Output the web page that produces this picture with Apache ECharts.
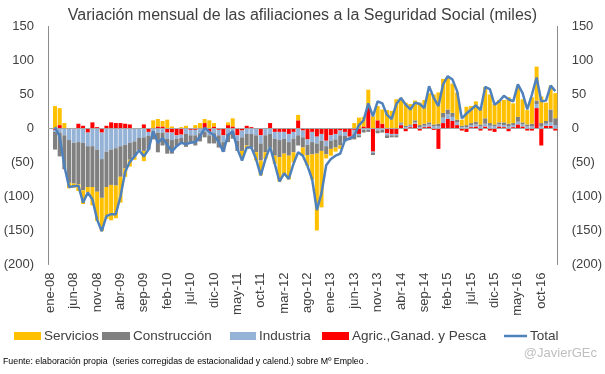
<!DOCTYPE html>
<html>
<head>
<meta charset="utf-8">
<script src="https://cdn.jsdelivr.net/npm/echarts@6/dist/echarts.min.js"></script>
<style>
html,body{margin:0;padding:0;background:#fff;}
#c{width:605px;height:374px;}
</style>
</head>
<body>
<div id="c"></div>
<script>
var categories = [
'ene-08','feb-08','mar-08','abr-08','may-08','jun-08','jul-08','ago-08','sep-08','oct-08','nov-08','dic-08',
'ene-09','feb-09','mar-09','abr-09','may-09','jun-09','jul-09','ago-09','sep-09','oct-09','nov-09','dic-09',
'ene-10','feb-10','mar-10','abr-10','may-10','jun-10','jul-10','ago-10','sep-10','oct-10','nov-10','dic-10',
'ene-11','feb-11','mar-11','abr-11','may-11','jun-11','jul-11','ago-11','sep-11','oct-11','nov-11','dic-11',
'ene-12','feb-12','mar-12','abr-12','may-12','jun-12','jul-12','ago-12','sep-12','oct-12','nov-12','dic-12',
'ene-13','feb-13','mar-13','abr-13','may-13','jun-13','jul-13','ago-13','sep-13','oct-13','nov-13','dic-13',
'ene-14','feb-14','mar-14','abr-14','may-14','jun-14','jul-14','ago-14','sep-14','oct-14','nov-14','dic-14',
'ene-15','feb-15','mar-15','abr-15','may-15','jun-15','jul-15','ago-15','sep-15','oct-15','nov-15','dic-15',
'ene-16','feb-16','mar-16','abr-16','may-16','jun-16','jul-16','ago-16','sep-16','oct-16','nov-16','dic-16',
'ene-17'];

var servicios = [null,
 33,25,8,-8,-6,-10,-20,-8,-27,-43,-49,
 -47,-52,-48,-38,-12,-10,-5,0,-15,0,12,11,
 8,13,3,0,2,4,0,5,8,6,12,5,
 0,0,4,12,0,-12,-5,0,-12,-22,-10,-5,
 -12,-36,-30,-35,-15,8,-12,-16,-37,-113,-83,-6,
 -10,-6,-5,0,0,8,16,14,24,18,21,21,
 27,26,43,36,34,30,29,33,35,43,44,46,
 50,48,43,40,9,27,25,30,26,46,42,30,
 33,33,39,29,46,34,21,39,50,39,27,35,
 37];
var construccion = [null,
 -26,-35,-50,-63,-60,-62,-70,-60,-60,-62,-57,
 -52,-52,-55,-45,-35,-25,-22,-18,-20,-20,-12,-29,
 -19,-22,-20,-11,-9,-19,-11,-15,-12,-8,-12,-15,
 -18,-14,-12,-10,-15,-20,-17,-20,-25,-25,-25,-20,
 -25,-25,-22,-20,-20,-15,-15,-15,-18,-15,-15,-12,
 -12,-12,-15,-8,-2,-8,-3,-4,-3,-3,-4,-4,
 -4,-3,-3,2,2,2,3,3,3,3,3,4,
 7,7,6,4,2,3,3,4,3,8,4,3,
 3,4,4,3,7,3,3,4,5,5,4,19,
 10];
var industria = [null,
 -3,-6,-10,-17,-20,-20,-21,-20,-26,-31,-39,
 -34,-31,-29,-26,-24,-21,-19,-14,-13,-6,-4,-6,
 -6,-9,-11,-5,-5,-8,-8,-8,-7,-5,-5,-7,
 -8,-10,-8,-5,-8,-10,-8,-8,-10,-12,-10,-8,
 -10,-12,-10,-12,-10,-10,-10,-8,-15,-10,-10,-8,
 -8,-8,-7,-6,-3,-6,-2,-2,-2,-2,-3,-2,
 -3,-2,-2,2,2,2,2,2,2,3,3,3,
 8,7,6,4,2,2,3,3,3,4,4,3,
 3,3,3,3,4,3,3,3,6,3,3,5,
 5];
var agricultura = [null,
 -2,5,0,0,-1,7,4,-6,9,2,-6,
 4,9,8,8,7,6,0,0,6,-5,0,3,
 3,-6,-6,-10,-9,0,-2,-2,0,8,-5,3,
 -2,-10,5,3,-10,-3,4,2,0,-10,0,8,
 -5,-5,-5,-8,-5,12,-3,-16,-5,-12,-8,-18,
 -10,-8,-3,-5,-12,-2,-8,3,33,-34,12,7,
 -7,-8,-8,5,-4,2,7,-3,2,3,-2,-30,
 8,14,11,5,-3,-5,2,3,-3,3,-3,-5,
 3,2,-4,2,6,3,-3,-3,30,-25,4,4,
 -3];
var total = [null,
 2,-12,-55,-86,-85,-84,-109,-94,-104,-134,-151,
 -129,-126,-126,-100,-64,-49,-41,-32,-41,-31,-4,-21,
 -14,-24,-34,-26,-21,-23,-21,-20,-12,1,-5,-10,
 -20,-34,-10,-4,-30,-47,-28,-28,-45,-69,-45,-27,
 -52,-78,-66,-74,-52,-35,-40,-55,-75,-120,-95,-54,
 -45,-40,-37,-17,-15,-11,5,12,37,18,40,37,
 20,14,36,45,35,28,38,36,30,62,45,33,
 65,77,72,55,15,22,28,34,27,61,58,35,
 40,48,43,40,65,52,28,50,75,40,41,63,
 55];

var yTicks = [-200,-150,-100,-50,0,50,100,150];

function fmt(v){ return v < 0 ? '(' + Math.abs(v) + ')' : String(v); }

var chart = echarts.init(document.getElementById('c'), null, {renderer:'canvas'});
var FONT = 'Liberation Sans';
var axisTxt = {color:'#404040', fontFamily:FONT, fontSize:13};

function legendAt(name, left, w, h){
  return {data:[{name:name, icon:'rect'}], left:left, top:329, itemWidth:w, itemHeight:h,
    itemGap:0, padding:0, textStyle:{color:'#404040', fontFamily:FONT, fontSize:13.5, padding:[0,0,0,-2]}};
}

var option = {
  animation:false,
  backgroundColor:'#ffffff',
  title:{text:'Variación mensual de las afiliaciones a la Seguridad Social (miles)', left:'center', top:3,
    textStyle:{color:'#404040', fontFamily:FONT, fontSize:16, fontWeight:'normal'}},
  legend:[
    legendAt('Servicios', 14, 27, 8),
    legendAt('Construcción', 102, 28, 8),
    legendAt('Industria', 230, 26, 8),
    legendAt('Agric.,Ganad. y Pesca', 322, 27, 8),
    legendAt('Total', 504, 23, 2.5)
  ],
  grid:{left:48, right:47, top:26.5, bottom:109.5, containLabel:false},
  xAxis:{type:'category', data:categories, boundaryGap:true,
    axisLine:{show:false}, axisTick:{show:false},
    axisLabel:{interval:4, rotate:90, margin:8, color:'#404040', fontFamily:FONT, fontSize:13}},
  yAxis:[
    {type:'value', min:-200, max:150, interval:50, position:'left',
     axisLine:{show:true, lineStyle:{color:'#8c8c8c', width:1}}, axisTick:{show:false}, splitLine:{show:false},
     axisLabel:Object.assign({formatter:fmt, margin:14}, axisTxt)},
    {type:'value', min:-200, max:150, interval:50, position:'right',
     axisLine:{show:true, lineStyle:{color:'#8c8c8c', width:1}}, axisTick:{show:false}, splitLine:{show:false},
     axisLabel:Object.assign({formatter:fmt, margin:14}, axisTxt)}
  ],
  series:[
    {name:'Agric.,Ganad. y Pesca', type:'bar', stack:'s', data:agricultura, barCategoryGap:'14%',
     itemStyle:{color:'#ff0000'},
     markLine:{silent:true, symbol:'none', label:{show:false}, lineStyle:{color:'#a6a6a6', width:1, type:'solid'},
       data:[{yAxis:0}], z:5}},
    {name:'Industria', type:'bar', stack:'s', data:industria, itemStyle:{color:'#95b3d7'}},
    {name:'Construcción', type:'bar', stack:'s', data:construccion, itemStyle:{color:'#808080'}},
    {name:'Servicios', type:'bar', stack:'s', data:servicios, itemStyle:{color:'#ffc000'}},
    {name:'Total', type:'line', data:total, symbol:'none', smooth:false, z:10,
     lineStyle:{color:'#4f81bd', width:2.5}, itemStyle:{color:'#4f81bd'}}
  ],
  graphic:[
    {type:'text', left:3, top:357, style:{text:'Fuente: elaboración propia  (series corregidas de estacionalidad y calend.) sobre Mº Empleo .',
      fill:'#000000', font:'8.8px "Liberation Sans"'}},
    {type:'text', right:8, top:347, style:{text:'@JavierGEc', fill:'#bfbfbf', font:'13px "Liberation Sans"'}}
  ]
};
chart.setOption(option);
</script>
</body>
</html>
